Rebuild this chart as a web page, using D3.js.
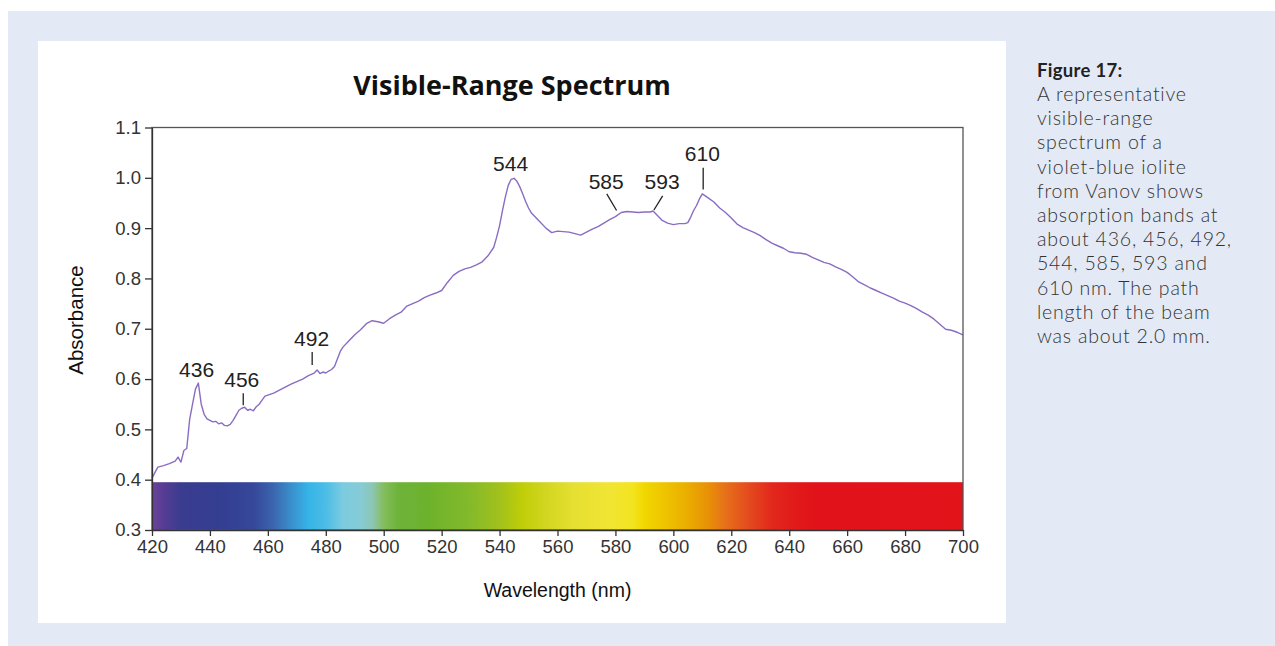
<!DOCTYPE html>
<html><head><meta charset="utf-8">
<script src="https://cdn.jsdelivr.net/npm/d3@7"></script>
<style>
body{margin:0;background:#fff;}
svg{display:block}
</style>
</head><body>
<svg id="c" width="1275" height="646"></svg>
<script>
// ---- data ----
const wavelengths = [420,422,424,426,428,429,430,431,432,433,434,435,436,437,438,439,440,441,442,443,444,445,446,447,448,449,450,451,452,453,454,455,456,457,458,459,460,462,464,466,468,470,472,474,476,477,478,479,480,481,482,483,484,485,486,488,490,492,494,496,498,500,502,504,506,508,510,512,514,516,518,520,522,524,526,528,530,532,534,536,538,539,540,541,542,543,544,545,546,547,548,549,550,551,552,554,556,558,560,562,564,566,568,570,572,574,576,578,580,582,584,586,588,590,592,593,594,596,598,600,602,604,605,606,607,608,609,610,611,612,614,616,618,620,622,624,626,628,630,632,634,636,638,640,642,644,646,648,650,652,654,656,658,660,662,664,666,668,670,672,674,676,678,680,682,684,686,688,690,692,694,696,698,700];
const absorbance = [0.403,0.425,0.428,0.432,0.437,0.445,0.435,0.458,0.462,0.520,0.550,0.580,0.592,0.550,0.530,0.521,0.518,0.515,0.516,0.511,0.513,0.508,0.507,0.510,0.518,0.528,0.538,0.542,0.544,0.538,0.540,0.537,0.545,0.550,0.558,0.566,0.568,0.572,0.578,0.584,0.590,0.595,0.600,0.607,0.612,0.618,0.611,0.614,0.612,0.616,0.619,0.625,0.640,0.655,0.664,0.676,0.688,0.698,0.710,0.716,0.714,0.711,0.720,0.727,0.733,0.745,0.750,0.755,0.762,0.767,0.771,0.776,0.792,0.806,0.814,0.819,0.822,0.827,0.833,0.845,0.862,0.882,0.905,0.935,0.962,0.985,0.997,0.999,0.993,0.982,0.968,0.953,0.940,0.930,0.924,0.912,0.900,0.891,0.894,0.893,0.892,0.889,0.886,0.892,0.898,0.903,0.910,0.917,0.923,0.931,0.933,0.932,0.931,0.932,0.932,0.934,0.928,0.916,0.910,0.907,0.909,0.909,0.911,0.922,0.935,0.945,0.958,0.968,0.964,0.960,0.952,0.940,0.931,0.920,0.908,0.901,0.896,0.891,0.885,0.877,0.870,0.865,0.860,0.853,0.851,0.850,0.848,0.842,0.837,0.832,0.829,0.823,0.818,0.812,0.803,0.793,0.787,0.781,0.776,0.771,0.766,0.761,0.755,0.751,0.746,0.740,0.733,0.727,0.719,0.709,0.699,0.697,0.693,0.688];

const xTicks = [420,440,460,480,500,520,540,560,580,600,620,640,660,680,700];
const yTicks = [0.3,0.4,0.5,0.6,0.7,0.8,0.9,1.0,1.1];

// peak annotations: label, label wavelength, label baseline absorbance
const peakLabels  = ["436","456","492","544","585","593","610"];
const peakLabelW  = [435.4,451.0,475.1,543.8,576.8,596.1,610.0];
const peakLabelA  = [0.604,0.584,0.666,1.014,0.978,0.978,1.034];
// leader lines (none for 436 and 544)
const leaderFromW = [451.5,475.3,577.0,596.3,610.3];
const leaderFromA = [0.572,0.654,0.968,0.964,1.020];
const leaderToW   = [451.5,475.3,580.4,593.3,610.3];
const leaderToA   = [0.548,0.628,0.935,0.936,0.977];

// visible spectrum colour bar
const barStopW = [420,424,430,445,455,462,468,474,480,486,492,496,500,505,515,530,540,548,556,566,578,586,590,596,604,612,618,626,634,642,650,700];
const barStopC = ["#6c4398","#563c94","#3a3c8f","#333f92","#36479a","#3b66ae","#3a8fcc","#35b4e7","#4cbde6","#7ccbe0","#86cbd6","#8cc7b5","#84bd5c","#6eb33a","#6db22c","#84ba2a","#a2c11c","#c0ce08","#d2d620","#e6e032","#f1e534","#f3e41e","#f1d700","#efc700","#ebb000","#e89106","#e6701a","#e44b1f","#e2281c","#e11a1a","#e11219","#e21319"];
const barTop = 0.395;

const titleText = "Visible-Range Spectrum";
const xTitle = "Wavelength (nm)";
const yTitle = "Absorbance";
const captionHead = "Figure 17:";
const captionLines = ["A representative","visible-range","spectrum of a","violet-blue iolite","from Vanov shows","absorption bands at","about 436, 456, 492,","544, 585, 593 and","610 nm. The path","length of the beam","was about 2.0 mm."];

// ---- drawing ----
const svg = d3.select("#c");
svg.append("rect").attr("x",8).attr("y",11).attr("width",1267).attr("height",635).attr("fill","#e4eaf5");
svg.append("rect").attr("x",38).attr("y",41).attr("width",968).attr("height",582).attr("fill","#ffffff");

const x = d3.scaleLinear().domain([420,700]).range([152,963]);
const y = d3.scaleLinear().domain([0.3,1.1]).range([530,127.5]);

// gradient
const grad = svg.append("defs").append("linearGradient").attr("id","spec")
  .attr("gradientUnits","userSpaceOnUse").attr("x1",x(420)).attr("x2",x(700)).attr("y1",0).attr("y2",0);
barStopW.forEach((w,i)=>{
  grad.append("stop").attr("offset",(w-420)/280).attr("stop-color",barStopC[i]);
});
svg.append("rect").attr("x",x(420)).attr("y",y(barTop)).attr("width",x(700)-x(420)).attr("height",y(0.3)-y(barTop)).attr("fill","url(#spec)");

// spectrum line
const pts = wavelengths.map((w,i)=>[w,absorbance[i]]);
svg.append("path").datum(pts)
  .attr("fill","none").attr("stroke","#8a6cc2").attr("stroke-width",1.4).attr("stroke-linejoin","round")
  .attr("d", d3.line().x(d=>x(d[0])).y(d=>y(d[1])));

// frame
svg.append("rect").attr("x",x(420)).attr("y",y(1.1)).attr("width",x(700)-x(420)).attr("height",y(0.3)-y(1.1))
  .attr("fill","none").attr("stroke","#555").attr("stroke-width",1.3);

const font = "'Liberation Sans', Arial, sans-serif";
const gy = svg.append("g").attr("transform",`translate(${x(420)},0)`)
  .call(d3.axisLeft(y).tickValues(yTicks).tickFormat(d3.format(".1f")).tickSize(7).tickSizeOuter(0).tickPadding(4));
const gx = svg.append("g").attr("transform",`translate(0,${y(0.3)})`)
  .call(d3.axisBottom(x).tickValues(xTicks).tickFormat(d3.format("d")).tickSize(6).tickSizeOuter(0).tickPadding(4));
[gx,gy].forEach(g=>{
  g.select(".domain").attr("stroke","#333").attr("stroke-width",1.3);
  g.selectAll(".tick line").attr("stroke","#333").attr("stroke-width",1.3);
  g.selectAll(".tick text").attr("fill","#333").style("font-family",font).style("font-size","18.5px");
});

// axis titles
svg.append("text").attr("x",557.5).attr("y",597).attr("text-anchor","middle")
  .style("font-family",font).style("font-size","19.5px").attr("fill","#111").text(xTitle);
svg.append("text").attr("transform","translate(83,320) rotate(-90)").attr("text-anchor","middle")
  .style("font-family",font).style("font-size","20.5px").attr("fill","#111").text(yTitle);

// title
svg.append("text").attr("x",512).attr("y",95).attr("text-anchor","middle")
  .style("font-family","'Open Sans', sans-serif").style("font-weight","700").style("font-size","27px").attr("fill","#111").text(titleText);

// peak labels
peakLabels.forEach((t,i)=>{
  svg.append("text").attr("x",x(peakLabelW[i])).attr("y",y(peakLabelA[i])).attr("text-anchor","middle")
    .style("font-family",font).style("font-size","21px").attr("fill","#222").text(t);
});
leaderFromW.forEach((w,i)=>{
  svg.append("line").attr("x1",x(w)).attr("y1",y(leaderFromA[i])).attr("x2",x(leaderToW[i])).attr("y2",y(leaderToA[i]))
    .attr("stroke","#222").attr("stroke-width",1.3);
});

// caption
const capFont = "Lato, 'Open Sans', sans-serif";
svg.append("text").attr("x",1037).attr("y",77).style("font-family",capFont).style("font-size","18.5px")
  .style("font-weight","700").style("letter-spacing","0.3px").attr("fill","#222").text(captionHead);
captionLines.forEach((l,i)=>{
  svg.append("text").attr("x",1037).attr("y",101+i*24.2).style("font-family",capFont).style("font-size","19.5px")
    .style("font-weight","300").style("letter-spacing","0.8px").attr("fill","#333").text(l);
});
</script>
</body></html>
